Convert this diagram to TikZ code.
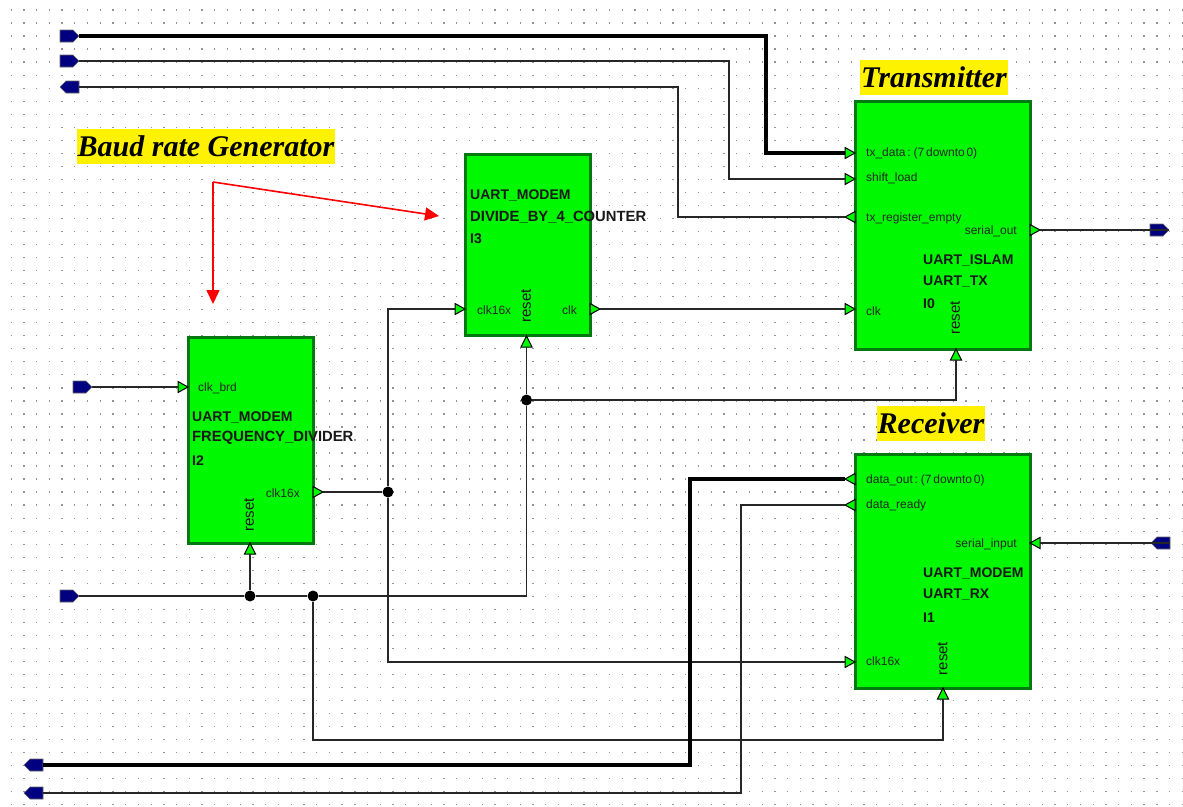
\documentclass[tikz,border=0pt]{standalone}
\usepackage{fontspec}
\setmainfont{Liberation Sans}
\newfontfamily\labelfont{Liberation Serif}
\usetikzlibrary{arrows.meta}
\definecolor{blockgreen}{HTML}{00F800}
\definecolor{blockedge}{HTML}{007A10}
\definecolor{navyterm}{HTML}{000080}
\tikzset{
  wire/.style={draw=black!85,line width=1.7pt,line join=miter},
  bus/.style={draw=black,line width=3.05pt,line join=miter},
  redline/.style={draw=red,line width=1.6pt,-{Stealth[length=14pt,width=13pt,inset=0pt]}},
  block/.style={draw=blockedge,fill=blockgreen,line width=3pt,inner sep=0pt},
  blocktext/.style={anchor=west,inner sep=0pt,font=\fontsize{14}{16}\selectfont\bfseries,text=black!90},
  longtext/.style={blocktext,font=\fontsize{14.8}{16}\selectfont\bfseries},
  porttext/.style={anchor=west,inner sep=0pt,font=\fontsize{12}{14}\selectfont,text=black!85},
  resettext/.style={inner sep=0pt,rotate=90,font=\fontsize{15}{17}\selectfont,text=black!90},
  hl/.style={fill=yellow,inner sep=0pt,font=\labelfont\fontsize{30}{34}\selectfont\bfseries\itshape,text=black,minimum height=35pt},
  junction/.style={circle,fill=black,inner sep=0pt,minimum size=11pt},
  trm/.style={fill=navyterm,draw=black!60,line width=.6pt},
  prt/.style={fill=blockgreen,draw=black,line width=1pt,line join=miter},
}
% terminals: name, x of tip, y; body is 19 long
\newcommand{\termR}[3]{\path[trm] (#2-19,#3-6) -- (#2-6,#3-6) -- (#2,#3) -- (#2-6,#3+6) -- (#2-19,#3+6) -- cycle; \coordinate (#1) at (#2,#3);}
\newcommand{\termL}[3]{\path[trm] (#2+19,#3-6) -- (#2+6,#3-6) -- (#2,#3) -- (#2+6,#3+6) -- (#2+19,#3+6) -- cycle; \coordinate (#1) at (#2+19,#3);}
% ports: name, x on the block edge, y
\newcommand{\portWestIn}[3]{\path[prt] (#2-10,#3-5.5) -- (#2,#3) -- (#2-10,#3+5.5) -- cycle; \coordinate (#1) at (#2-10,#3);}
\newcommand{\portWestOut}[3]{\path[prt] (#2,#3-5.5) -- (#2-10,#3) -- (#2,#3+5.5) -- cycle; \coordinate (#1) at (#2-10,#3);}
\newcommand{\portEastOut}[3]{\path[prt] (#2,#3-5.5) -- (#2+10,#3) -- (#2,#3+5.5) -- cycle; \coordinate (#1) at (#2+10,#3);}
\newcommand{\portEastIn}[3]{\path[prt] (#2+10,#3-5.5) -- (#2,#3) -- (#2+10,#3+5.5) -- cycle; \coordinate (#1) at (#2+10,#3);}
\newcommand{\portUp}[3]{\path[prt] (#2-5.5,#3+11) -- (#2,#3) -- (#2+5.5,#3+11) -- cycle; \coordinate (#1) at (#2,#3+11);}
\begin{document}
\begin{tikzpicture}[x=1pt,y=-1pt]
\useasboundingbox (0,0) rectangle (1183,806);
\fill[white] (0,0) rectangle (1183,806);
% background dot grid
\foreach \r in {0,...,61}
  \draw[black!42,line width=1.3pt,dash pattern=on 1.3pt off 11.43pt] (10.5,10+13.03*\r) -- (1183,10+13.03*\r);

% blocks
\node[block,minimum width=175pt,minimum height=248pt] (I0) at (942.5,225) {};
\node[block,minimum width=175pt,minimum height=234pt] (I1) at (942.5,571) {};
\node[block,minimum width=125pt,minimum height=206pt] (I2) at (250.5,440) {};
\node[block,minimum width=125pt,minimum height=181pt] (I3) at (527.5,244.5) {};

% junctions
\node[junction] (j1) at (526.5,400) {};
\node[junction] (j2) at (388,492) {};
\node[junction] (j3) at (250,596) {};
\node[junction] (j4) at (313,596) {};

% terminals
\termR{ttxdata}{79}{36}
\termR{tshift}{79}{61}
\termL{tempty}{60}{87}
\termR{tbrd}{92}{387}
\termR{treset}{79}{596}
\termL{tdataout}{24}{765}
\termL{tready}{24}{793}
\termR{tserialout}{1169}{230}
\termL{tserialin}{1151}{543}

% ports
\portWestIn{ptxdata}{855}{153}
\portWestIn{pshift}{855}{179}
\portWestOut{pempty}{855}{217}
\portWestIn{pclk}{855}{309}
\portEastOut{pserialout}{1030}{230}
\portUp{presetI0}{956}{349}
\portWestOut{pdataout}{855}{479}
\portWestOut{pready}{855}{505}
\portEastIn{pserialin}{1030}{543}
\portWestIn{pclkrx}{855}{662}
\portUp{presetI1}{943}{688}
\portWestIn{pbrd}{188}{387}
\portEastOut{pclkdiv}{313}{492}
\portUp{presetI2}{250}{543}
\portWestIn{pclkin}{465}{309}
\portEastOut{pclkout}{590}{309}
\portUp{presetI3}{526.5}{336}

% wires
\draw[bus] (ttxdata) -- (766,36) |- (ptxdata);
\draw[wire] (tshift) -- (729,61) |- (pshift);
\draw[wire] (tempty) -- (678,87) |- (pempty);
\draw[wire] (tbrd) -- (pbrd);
\draw[wire] (pclkout) -- (pclk);
\draw[wire] (pserialout) -- (tserialout);
\draw[wire] (pserialin) -- (tserialin);
\draw[wire] (pclkdiv) -- (j2);
\draw[wire] (j2) |- (pclkin);
\draw[wire] (j2) |- (pclkrx);
\draw[wire] (treset) -- (j3);
\draw[wire] (j3) -- (presetI2);
\draw[wire] (j3) -- (j4);
\draw[wire] (j4) -- (526.5,596) -- (j1);
\draw[wire] (j1) -- (presetI3);
\draw[wire] (j1) -| (presetI0);
\draw[wire] (j4) |- (943,740) -- (presetI1);
\draw[bus] (tdataout) -- (690,765) |- (pdataout);
\draw[wire] (tready) -- (741,793) |- (pready);

% block texts
\node[blocktext] (n3a) at (470,195) {UART\_MODEM};
\node[longtext] (n3b) at (470,217) {DIVIDE\_BY\_4\_COUNTER};
\node[blocktext] (n3c) at (470,239) {I3};
\node[blocktext] (n2a) at (192,417) {UART\_MODEM};
\node[longtext] (n2b) at (192,438) {FREQUENCY\_DIVIDER};
\node[blocktext] (n2c) at (192,461) {I2};
\node[blocktext] (n0a) at (923,260) {UART\_ISLAM};
\node[blocktext] (n0b) at (923,282) {UART\_TX};
\node[blocktext] (n0c) at (923,304) {I0};
\node[blocktext] (n1a) at (923,573) {UART\_MODEM};
\node[blocktext] (n1b) at (923,594.5) {UART\_RX};
\node[blocktext] (n1c) at (923,618) {I1};

% port texts
\node[porttext] (l1) at (866,153.5) {\spaceskip=1.8pt tx\_data : (7 downto 0)};
\node[porttext] (l2) at (866,178) {shift\_load};
\node[porttext] (l3) at (866,218) {tx\_register\_empty};
\node[porttext,anchor=east] (l4) at (1017,231) {serial\_out};
\node[porttext] (l5) at (866,311) {clk};
\node[resettext] (l6) at (955,318) {reset};
\node[porttext] (l7) at (866,480) {\spaceskip=1.8pt data\_out : (7 downto 0)};
\node[porttext] (l8) at (866,505) {data\_ready};
\node[porttext,anchor=east] (l9) at (1017,544) {serial\_input};
\node[porttext] (l10) at (866,661) {clk16x};
\node[resettext] (l11) at (942.5,658.5) {reset};
\node[porttext] (l12) at (198,388) {clk\_brd};
\node[porttext,anchor=east] (l13) at (300,493) {clk16x};
\node[resettext] (l14) at (249,515) {reset};
\node[porttext] (l15) at (477,310) {clk16x};
\node[porttext,anchor=east] (l16) at (577,310) {clk};
\node[resettext] (l17) at (526,306) {reset};

% annotations
\node[hl,minimum width=258pt] (baud) at (206,146.5) {Baud rate Generator};
\node[hl,minimum width=148pt] (tx) at (934,77.5) {Transmitter};
\node[hl,minimum width=108pt] (rx) at (931,423.5) {Receiver};
\coordinate (rs) at (213,182);
\coordinate (rd) at (213,304);
\coordinate (rr) at (439,216);
\draw[redline] (rs) -- (rd);
\draw[redline] (rs) -- (rr);
\end{tikzpicture}
\end{document}
